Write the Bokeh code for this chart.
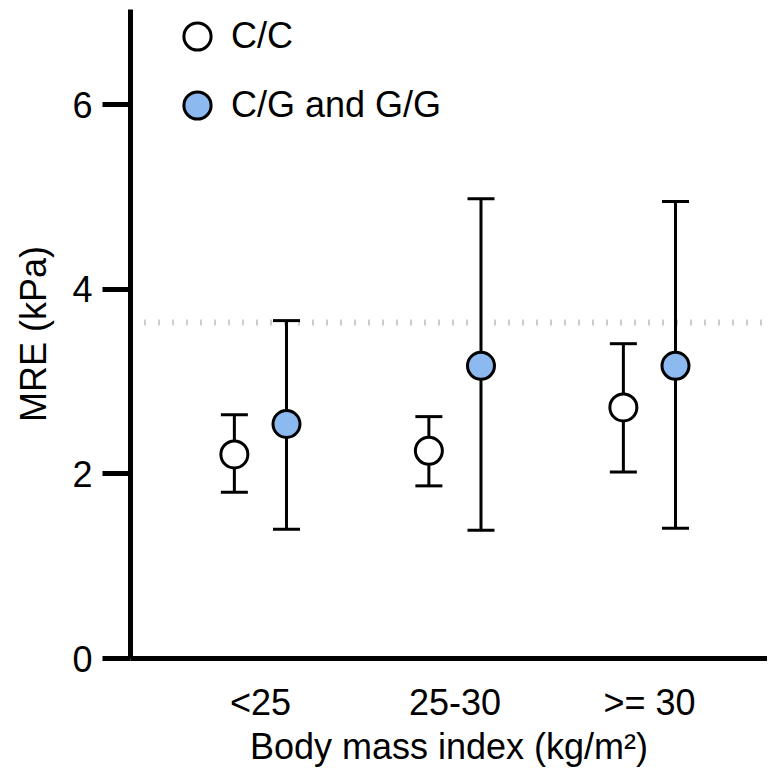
from bokeh.plotting import figure
from bokeh.models import (Range1d, Whisker, ColumnDataSource, Span, Legend,
                          LegendItem, FixedTicker, TeeHead)
from bokeh.embed import file_html
from bokeh.resources import INLINE

categories = ["<25", "25-30", ">= 30"]
cc_mean = [2.21, 2.25, 2.72]
cc_upper = [2.64, 2.62, 3.41]
cc_lower = [1.80, 1.87, 2.02]
cg_mean = [2.54, 3.17, 3.17]
cg_upper = [3.66, 4.98, 4.95]
cg_lower = [1.40, 1.39, 1.41]
reference_line = 3.64
y_ticks = [0, 2, 4, 6]
series_labels = ["C/C", "C/G and G/G"]

FONT = "Liberation Sans"
FS = "36px"

p = figure(width=767, height=769, output_backend="svg", toolbar_location=None,
           x_range=Range1d(-0.668, 2.607), y_range=Range1d(0, 7.03),
           min_border_left=130, min_border_top=9, min_border_right=0,
           min_border_bottom=110)
p.outline_line_color = None
p.xgrid.visible = False
p.ygrid.visible = False

span = Span(location=reference_line, dimension="width", line_color="#9c9c9c",
            line_width=6, line_dash="1 13", level="underlay")
p.add_layout(span)

renderers = []
for mean, up, lo, off, fill in [(cc_mean, cc_upper, cc_lower, -0.134, "white"),
                                (cg_mean, cg_upper, cg_lower, 0.134, "#8cb9f0")]:
    xs = [i + off for i in range(len(categories))]
    src = ColumnDataSource(dict(x=xs, y=mean, upper=up, lower=lo))
    w = Whisker(source=src, base="x", upper="upper", lower="lower",
                dimension="height", line_width=3, line_color="black",
                level="underlay",
                upper_head=TeeHead(size=27, line_width=3, line_color="black"),
                lower_head=TeeHead(size=27, line_width=3, line_color="black"))
    p.add_layout(w)
    r = p.scatter("x", "y", source=src, size=27, fill_color=fill,
                  line_color="black", line_width=3)
    renderers.append(r)

legend = Legend(items=[LegendItem(label=series_labels[0], renderers=[renderers[0]]),
                       LegendItem(label=series_labels[1], renderers=[renderers[1]])],
                location=(33, 519), glyph_width=68, glyph_height=68,
                label_standoff=-7, spacing=1, padding=0,
                margin=0, border_line_color=None, background_fill_alpha=0,
                label_text_font_size=FS, label_text_font=FONT,
                label_text_color="black")
p.add_layout(legend)

# y axis
ya = p.yaxis[0]
ya.ticker = FixedTicker(ticks=y_ticks)
ya.axis_line_width = 5
ya.axis_line_color = "black"
ya.major_tick_line_width = 5
ya.major_tick_line_color = "black"
ya.major_tick_out = 28
ya.major_tick_in = 0
ya.minor_tick_line_color = None
ya.major_label_text_font = FONT
ya.major_label_text_font_size = FS
ya.major_label_text_color = "black"
ya.major_label_standoff = 10
ya.axis_label = "MRE (kPa)"
ya.axis_label_text_font = FONT
ya.axis_label_text_font_size = FS
ya.axis_label_text_font_style = "normal"
ya.axis_label_text_color = "black"
ya.axis_label_standoff = 15

# x axis
xa = p.xaxis[0]
xa.ticker = FixedTicker(ticks=list(range(len(categories))))
xa.major_label_overrides = {i: c for i, c in enumerate(categories)}
xa.axis_line_width = 5
xa.axis_line_color = "black"
xa.major_tick_line_color = None
xa.minor_tick_line_color = None
xa.major_label_text_font = FONT
xa.major_label_text_font_size = FS
xa.major_label_text_color = "black"
xa.major_label_standoff = 17
xa.axis_label = "Body mass index (kg/m²)"
xa.axis_label_text_font = FONT
xa.axis_label_text_font_size = FS
xa.axis_label_text_font_style = "normal"
xa.axis_label_text_color = "black"
xa.axis_label_standoff = 0

open("out.html", "w").write(file_html(p, INLINE))
